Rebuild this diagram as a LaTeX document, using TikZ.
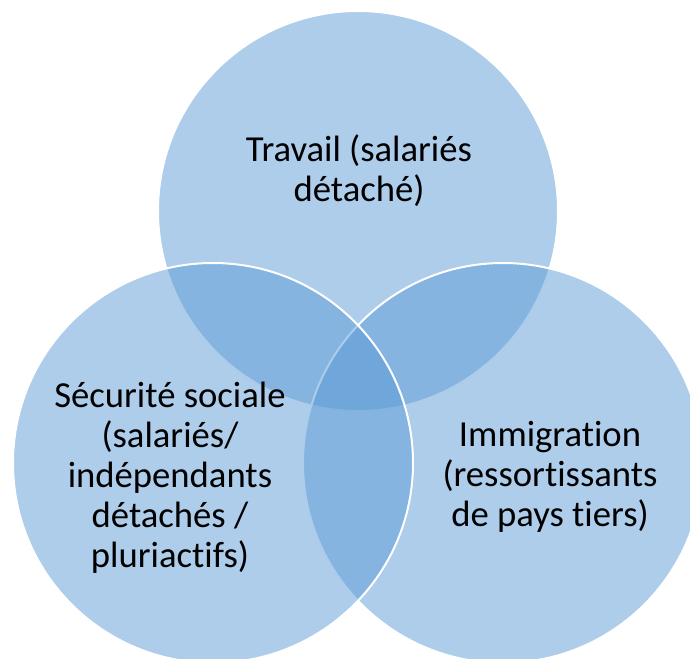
\documentclass[tikz,border=0pt]{standalone}
\usepackage{fontspec}
\setmainfont{Carlito}[Ligatures={NoCommon}]
\definecolor{venn}{RGB}{91,155,213}
\begin{document}
\begin{tikzpicture}[x=0.75pt,y=-0.75pt,
	ring/.style={circle,minimum size=300pt,inner sep=0pt,fill=venn,fill opacity=.5,draw=white,draw opacity=1,line width=1.5pt},
	lbl/.style={align=center,font=\fontsize{27.5}{30}\selectfont,text=black}]
	\useasboundingbox (0,0) rectangle (690,659);
	\clip (0,0) rectangle (690,659);
	\node[ring] (trav) at (358,211) {};
	\node[ring] (immi) at (503,463) {};
	\node[ring] (secu) at (213,463) {};
	
	\node[lbl] (ttrav) at (359,171) {Travail (salariés\\détaché)};
	\node[lbl] (tsecu) at (170,478) {Sécurité sociale\\(salariés/\\indépendants\\détachés /\\pluriactifs)};
	\node[lbl] (timmi) at (550,477) {Immigration\\(ressortissants\\de pays tiers)};
\end{tikzpicture}
\end{document}
